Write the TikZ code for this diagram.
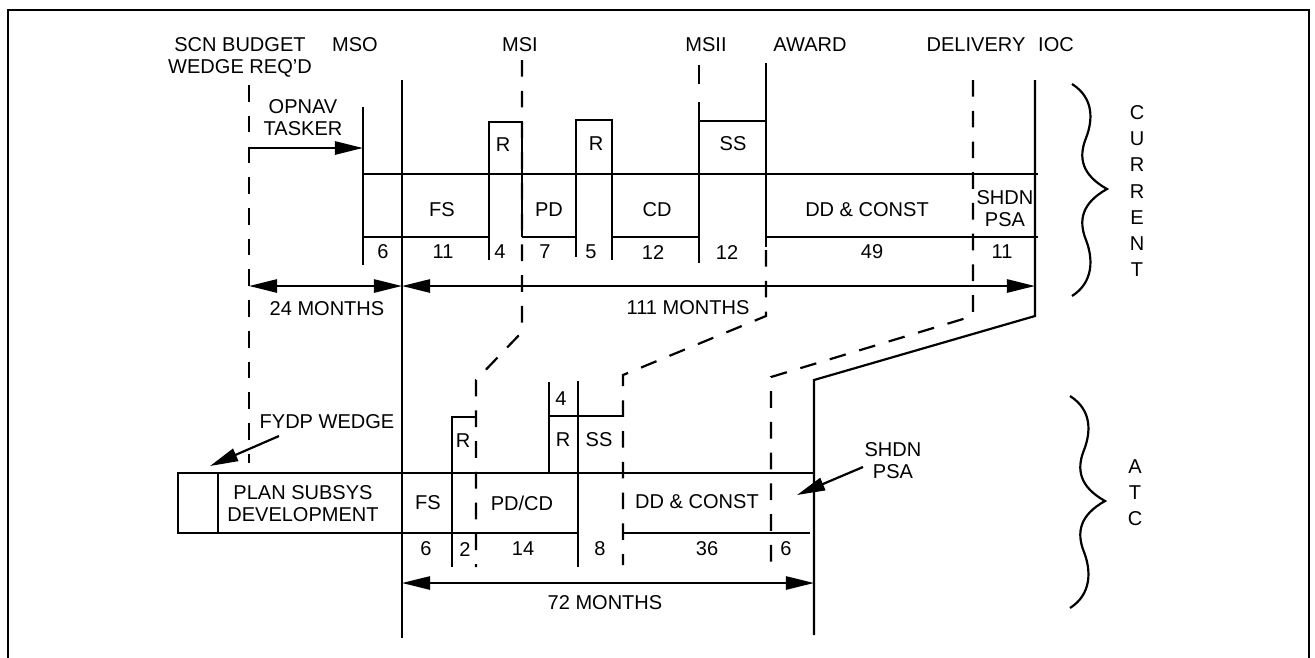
\documentclass[tikz,border=0pt]{standalone}
\usepackage{fontspec}
\setmainfont{Liberation Sans}
\usetikzlibrary{arrows.meta}

\tikzset{
    chart/.style={line width=1.25pt},
    dashline/.style={line width=1.25pt, dash pattern=on 9.5pt off 8pt},
    lbl/.style={font=\fontsize{11.4}{12.6}\selectfont, inner sep=0pt, align=center},
    vlbl/.style={font=\fontsize{11.4}{14.85}\selectfont, inner sep=0pt, align=center},
}

\begin{document}
\begin{tikzpicture}[x=0.02cm, y=-0.02cm, >={Triangle[length=16pt, width=7.5pt]}]
        \useasboundingbox (0,0) rectangle (1315,657);
        \draw [line width=1.4pt] (8,10) rectangle (1309,670);
        
        %milestone labels
        \node [lbl] (scn) at (240,57) {SCN BUDGET\\WEDGE REQ'D};
        \node [lbl] (mso) at (355,45) {MSO};
        \node [lbl] (msi) at (520,45) {MSI};
        \node [lbl] (msii) at (706,45) {MSII};
        \node [lbl] (award) at (810,45) {AWARD};
        \node [lbl] (delivery) at (976,45) {DELIVERY};
        \node [lbl] (ioc) at (1056,45) {IOC};
        
        %the current schedule
        \draw [chart] (363,107) -- (363,265);
        \draw [chart] (402,80) -- (402,638);
        \draw [chart] (363,174) -- (1038,174);
        \draw [chart] (363,237) -- (489,237) (522,237) -- (576,237) (612,237) -- (699,237) (766,237) -- (1038,237);
        \draw [chart] (489,260) -- (489,122) -- (522,122) -- (522,237);
        \draw [chart] (576,257) -- (576,120) -- (612,120) -- (612,260);
        \draw [chart] (699,102) -- (699,263);
        \draw [chart] (699,121) -- (766,121);
        \draw [chart] (766,63) -- (766,247);
        \draw [chart] (699,65) -- (699,84);
        \draw [dashline] (249,85) -- (249,463);
        
        %lines down to the atc schedule
        \draw [dashline] (522,60) -- (522,332) -- (476,380) -- (476,567);
        \draw [dashline] (766,250) -- (766,316) -- (623,375) -- (623,565);
        \draw [dashline] (973,80) -- (973,316) -- (771,377) -- (771,570);
        \draw [chart] (1035,80) -- (1035,316) -- (814,380) -- (814,635);
        
        \node [lbl] (opnav) at (303,118) {OPNAV\\TASKER};
        \node [lbl] (r1) at (503,145) {R};
        \node [lbl] (r2) at (596,144) {R};
        \node [lbl] (ss) at (733,144) {SS};
        \node [lbl] (fs) at (442,210) {FS};
        \node [lbl] (pd) at (549,210) {PD};
        \node [lbl] (cd) at (657,210) {CD};
        \node [lbl] (ddc) at (867,210) {DD \& CONST};
        \node [lbl] (shdn) at (1005,209) {SHDN\\PSA};
        
        \node [lbl] (c6) at (383,252) {6};
        \node [lbl] (c11) at (443,252) {11};
        \node [lbl] (c4) at (500,252) {4};
        \node [lbl] (c7) at (545,252) {7};
        \node [lbl] (c5) at (591,252) {5};
        \node [lbl] (c12a) at (653,252) {12};
        \node [lbl] (c12b) at (727,252) {12};
        \node [lbl] (c49) at (872,252) {49};
        \node [lbl] (c11b) at (1002,252) {11};
        
        \coordinate (opnavL) at (249,148);
        \coordinate (opnavR) at (363,148);
        \draw [chart, ->] (opnavL) -- (opnavR);
        
        \coordinate (m24L) at (249,286);
        \coordinate (m24R) at (402,286);
        \coordinate (m111R) at (1035,286);
        \draw [chart, <->] (m24L) -- (m24R);
        \draw [chart, <->] (m24R) -- (m111R);
        \node [lbl] (m24) at (327,309) {24 MONTHS};
        \node [lbl] (m111) at (688,308) {111 MONTHS};
        
        %the atc schedule
        \draw [chart] (814,473) -- (178,473) -- (178,533) -- (578,533);
        \draw [chart] (218,473) -- (218,533);
        \draw [chart] (623,533) -- (810,533);
        \draw [chart] (452,567) -- (452,417) -- (476,417);
        \draw [chart] (549,382) -- (549,473);
        \draw [chart] (578,381) -- (578,567);
        \draw [chart] (549,416) -- (623,416);
        
        \node [lbl] (fydp) at (327,422) {FYDP WEDGE};
        \node [lbl] (plan) at (303,504) {PLAN SUBSYS\\DEVELOPMENT};
        \node [lbl] (afs) at (428,503) {FS};
        \node [lbl] (ar1) at (463,441) {R};
        \node [lbl] (a4top) at (561,399) {4};
        \node [lbl] (ar2) at (563,440) {R};
        \node [lbl] (ass) at (599,440) {SS};
        \node [lbl] (pdcd) at (522,503) {PD/CD};
        \node [lbl] (addc) at (697,502) {DD \& CONST};
        \node [lbl] (ashdn) at (893,461) {SHDN\\PSA};
        
        \node [lbl] (a6) at (426,549) {6};
        \node [lbl] (a2) at (465,549) {2};
        \node [lbl] (a14) at (523,549) {14};
        \node [lbl] (a8) at (600,549) {8};
        \node [lbl] (a36) at (707,549) {36};
        \node [lbl] (a6b) at (786,549) {6};
        
        \coordinate (fydpA) at (279,436);
        \coordinate (fydpB) at (210,466);
        \draw [chart, ->] (fydpA) -- (fydpB);
        \coordinate (shdnA) at (863,467);
        \coordinate (shdnB) at (797,495);
        \draw [chart, ->] (shdnA) -- (shdnB);
        
        \coordinate (m72L) at (402,583);
        \coordinate (m72R) at (814,583);
        \draw [chart, <->] (m72L) -- (m72R);
        \node [lbl] (m72) at (605,603) {72 MONTHS};
        
        %braces
        \foreach \bx/\by in {0/0, -2/312}
            \draw [chart, shift={(\bx,\by)}] (1072,84) .. controls (1094,98) and (1093,120) .. (1086,138) .. controls (1078,158) and (1082,175) .. (1107,189) .. controls (1082,203) and (1078,220) .. (1086,240) .. controls (1093,258) and (1094,282) .. (1072,296);
        \node [vlbl] (current) at (1137,191) {C\\U\\R\\R\\E\\N\\T};
        \node [vlbl] (atc) at (1135,493) {A\\T\\C};
        
    \end{tikzpicture}
\end{document}
